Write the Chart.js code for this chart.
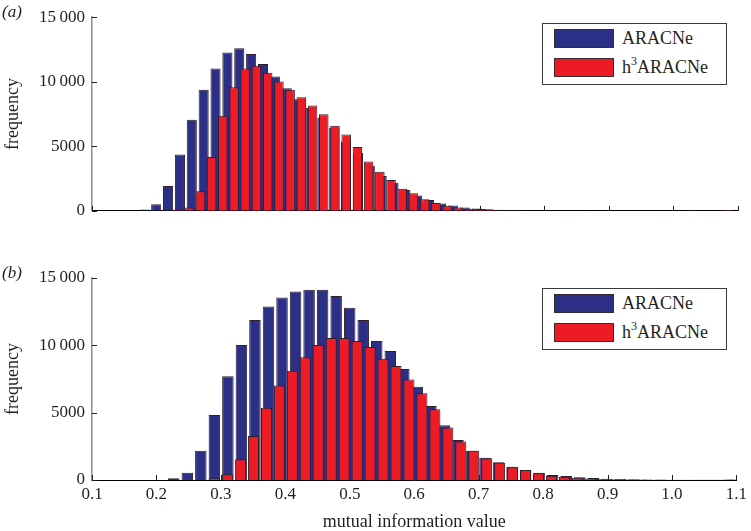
<!DOCTYPE html>
<html>
<head>
<meta charset="utf-8">
<script src="https://cdn.jsdelivr.net/npm/chart.js@4/dist/chart.umd.min.js"></script>
<style>
  html, body { margin: 0; padding: 0; background: #fff; }
  #page { position: relative; width: 751px; height: 531px; overflow: hidden;
          font-family: "Liberation Serif", "DejaVu Serif", serif; color: #231f20; }
  .panel { position: absolute; left: 0; }
  .tag { position: absolute; left: 2px; font-style: italic; font-size: 17px; line-height: 20px; }
  .legend { position: absolute; left: 542px; width: 183px; height: 60px;
            border: 1px solid #3a3a3a; background: #fff; }
  .sw { position: absolute; left: 11px; width: 58px; height: 17px; border: 1px solid #3a2a35; }
  .lt { position: absolute; left: 79px; font-size: 18px; line-height: 20px; white-space: nowrap; }
  .lt sup { font-size: 12px; line-height: 0; position: relative; top: -1px; }
</style>
</head>
<body>
<div id="page">
  <canvas id="chartA" class="panel" style="top:0" width="751" height="228"></canvas>
  <canvas id="chartB" class="panel" style="top:260px" width="751" height="271"></canvas>

  <div class="tag" style="top:2px">(a)</div>
  <div class="tag" style="top:263px">(b)</div>

  <div class="legend" style="top:23px">
    <span class="sw" style="top:5px;background:#2b2f86"></span>
    <span class="lt" style="top:4px">ARACNe</span>
    <span class="sw" style="top:34px;background:#ed1c24"></span>
    <span class="lt" style="top:33px">h<sup>3</sup>ARACNe</span>
  </div>
  <div class="legend" style="top:288px">
    <span class="sw" style="top:5px;background:#2b2f86"></span>
    <span class="lt" style="top:4px">ARACNe</span>
    <span class="sw" style="top:34px;background:#ed1c24"></span>
    <span class="lt" style="top:33px">h<sup>3</sup>ARACNe</span>
  </div>
</div>

<script>
// axis ranges
const xMin = 0.1, xMax = 1.1, xStep = 0.1;
const yMax = 15000, yStep = 5000;

// histogram bins (first bin centre, bin width)
const binA_aracne = [0.181, 0.01837];
const binA_h3 = [0.2331, 0.01736];
const binB_aracne = [0.2269, 0.0210];
const binB_h3 = [0.2904, 0.0201];

// (a) frequencies
const freqA_aracne = [100, 510, 1930, 4370, 7060, 9370, 11020, 12270, 12590, 12140,
  11370, 10400, 9490, 8650, 7980, 7200, 6440, 5360, 4500, 3500,
  2700, 2180, 1610, 1180, 840, 560, 410, 260, 180, 120,
  80, 60, 40, 30, 30, 20, 20, 20, 20, 20,
  20, 20, 20, 20, 20, 20, 40, 20, 20, 60];
const freqA_h3 = [80, 260, 1510, 4170, 7360, 9580, 11020, 11240, 10700, 10020,
  9370, 8800, 8160, 7490, 6590, 5920, 4950, 3820, 3030, 2380,
  1700, 1360, 900, 600, 400, 260, 160, 130, 80, 50,
  40, 30, 30, 20, 20, 20, 20, 20, 20, 20,
  20, 20, 20, 20, 20, 20, 50, 20, 20, 60];

// (b) frequencies
const freqB_aracne = [130, 540, 2180, 4830, 7700, 10030, 11890, 12880, 13550, 13990,
  14120, 14120, 13670, 12800, 11890, 10330, 9580, 8250, 6930, 5500,
  4060, 2970, 2180, 1660, 1310, 990, 690, 540, 370, 300,
  200, 150, 100, 70, 50, 40, 30, 20, 20, 20, 20, 40];
const freqB_h3 = [130, 420, 1540, 3270, 5370, 7010, 8120, 9120, 10030, 10550,
  10550, 10330, 9880, 9010, 8470, 7460, 6440, 5250, 3890, 2850,
  2180, 1610, 1290, 940, 740, 500, 320, 240, 170, 120,
  80, 60, 40, 30, 20, 20, 20, 20, 20, 20, 40];

const blue = "#2b2f86";
const red = "#ed1c24";
const edge = "#2e1f2c";
const ink = "#231f20";
const serif = "'Liberation Serif', 'DejaVu Serif', serif";

function toPoints(bin, counts) {
  return counts.map((c, i) => ({ x: bin[0] + i * bin[1], y: c }));
}

function fmtY(v) {
  return v >= 10000 ? Math.floor(v / 1000) + "\u2009" + String(v % 1000).padStart(3, "0") : String(v);
}

// tick marks pointing into the plot, drawn under the bars
const inwardTicks = {
  id: "inwardTicks",
  beforeDatasetsDraw(chart) {
    const { ctx } = chart;
    const x = chart.scales.x, y = chart.scales.y;
    ctx.save();
    ctx.strokeStyle = ink;
    ctx.lineWidth = 1;
    ctx.beginPath();
    x.ticks.forEach(t => {
      const px = Math.round(x.getPixelForValue(t.value)) + 0.5;
      ctx.moveTo(px, y.bottom);
      ctx.lineTo(px, y.bottom - 5);
    });
    y.ticks.forEach(t => {
      const py = Math.round(y.getPixelForValue(t.value)) + 0.5;
      ctx.moveTo(x.left, py);
      ctx.lineTo(x.left + 5, py);
    });
    ctx.stroke();
    ctx.restore();
  }
};

function buildPanel(id, aracne, h3, showX, pad) {
  const dataset = (label, data, axis, color, order) => ({
    label, data, xAxisID: axis, order, grouped: false,
    backgroundColor: color, borderColor: edge, borderWidth: 1,
    barPercentage: 0.85, categoryPercentage: 1
  });
  return new Chart(document.getElementById(id), {
    type: "bar",
    data: {
      datasets: [
        dataset("ARACNe", aracne, "x", blue, 2),
        dataset("h3ARACNe", h3, "x2", red, 1)
      ]
    },
    options: {
      responsive: false,
      animation: false,
      layout: { padding: pad },
      plugins: { legend: { display: false }, tooltip: { enabled: false } },
      scales: {
        x: {
          type: "linear", min: xMin, max: xMax, offset: false,
          grid: { display: false, offset: false, drawTicks: false },
          border: { display: true, color: "#000", width: 1 },
          ticks: {
            display: showX, stepSize: xStep, padding: 4, color: ink,
            font: { family: serif, size: 17 },
            callback: v => v.toFixed(1)
          },
          title: {
            display: showX, text: "mutual information value", color: ink,
            font: { family: serif, size: 18, lineHeight: 1 },
            padding: { top: 0, bottom: 0 }
          },
          afterFit: s => { s.height = showX ? 51 : 0; }
        },
        x2: {
          type: "linear", display: false, min: xMin, max: xMax, offset: false,
          grid: { offset: false }
        },
        y: {
          min: 0, max: yMax,
          grid: { display: false, drawTicks: false },
          border: { display: true, color: "#8c8c8c", width: 1.5 },
          ticks: {
            stepSize: yStep, padding: 7, color: ink,
            font: { family: serif, size: 17 },
            callback: fmtY
          },
          title: {
            display: true, text: "frequency", color: ink,
            font: { family: serif, size: 18 },
            padding: { top: 2, bottom: 0 }
          },
          afterFit: s => { s.width = 92; }
        }
      }
    },
    plugins: [inwardTicks]
  });
}

buildPanel("chartA", toPoints(binA_aracne, freqA_aracne), toPoints(binA_h3, freqA_h3), false,
  { top: 13, right: 13, bottom: 14, left: 0 });
buildPanel("chartB", toPoints(binB_aracne, freqB_aracne), toPoints(binB_h3, freqB_h3), true,
  { top: 18, right: 13, bottom: 0, left: 0 });
</script>
</body>
</html>
